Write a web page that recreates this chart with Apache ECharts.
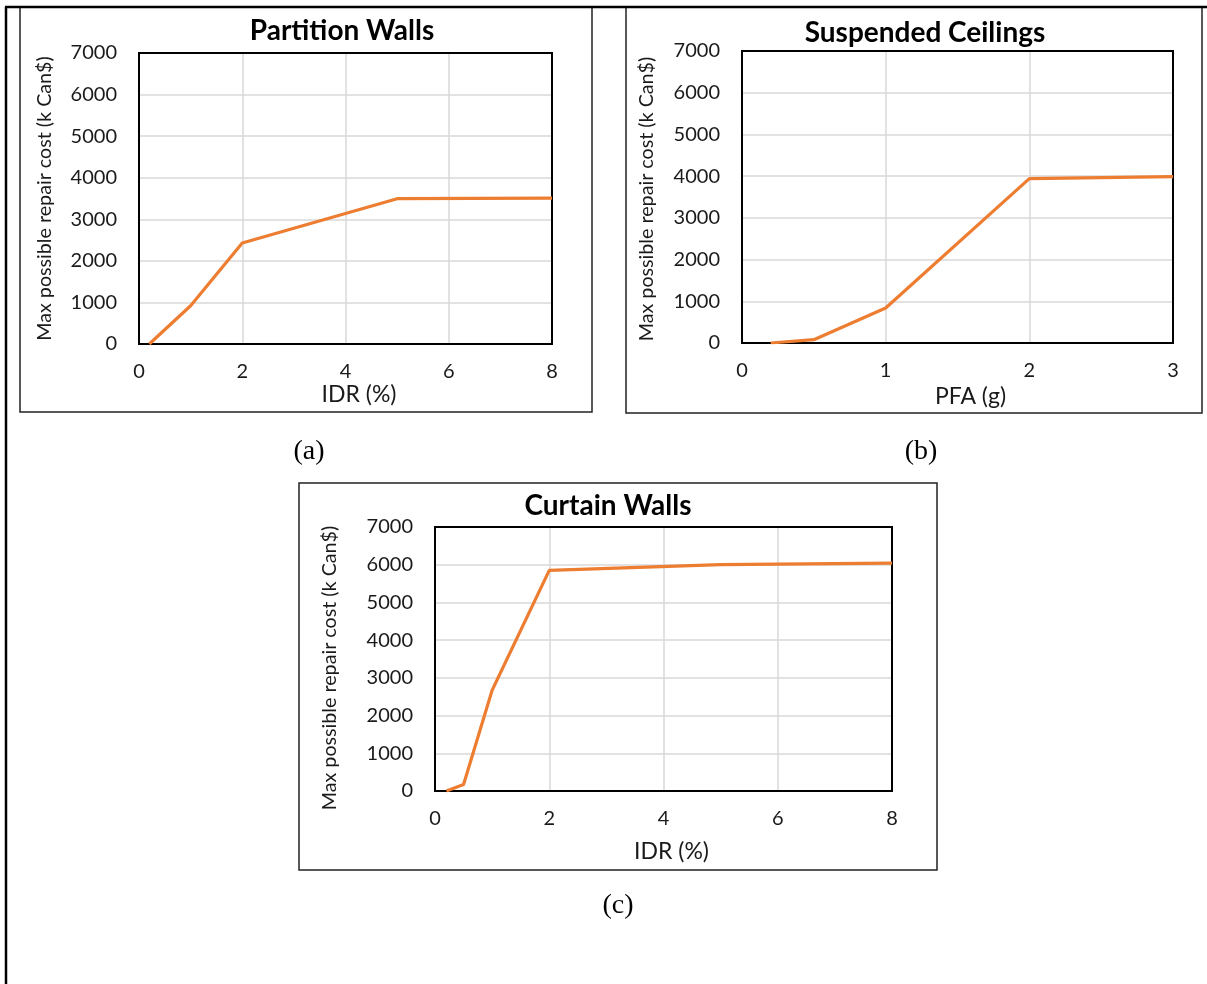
<!DOCTYPE html>
<html>
<head>
<meta charset="utf-8">
<title>Max possible repair cost</title>
<script src="https://cdn.jsdelivr.net/npm/echarts@6/dist/echarts.min.js"></script>
<style>
  html, body { margin: 0; padding: 0; background: #fff; }
  #chart { width: 1207px; height: 984px; }
</style>
</head>
<body>
<div id="chart"></div>
<script>
// Partition walls: max possible repair cost vs inter-storey drift ratio
const partitionIdr = [0.2, 1, 2, 5, 8];
const partitionCost = [0, 920, 2430, 3495, 3510];

// Suspended ceilings: max possible repair cost vs peak floor acceleration
const ceilingPfa = [0.2, 0.5, 1, 2, 3];
const ceilingCost = [0, 80, 840, 3940, 3990];

// Curtain walls: max possible repair cost vs inter-storey drift ratio
const curtainIdr = [0.2, 0.5, 1, 2, 5, 8];
const curtainCost = [0, 170, 2670, 5850, 6000, 6040];

const panelTitles = ['Partition Walls', 'Suspended Ceilings', 'Curtain Walls'];
const xNames = ['IDR (%)', 'PFA (g)', 'IDR (%)'];
const yName = 'Max possible repair cost (k Can$)';
const captions = ['(a)', '(b)', '(c)'];

const FONT = 'Lato, "Open Sans", sans-serif';
const ORANGE = '#ED7D31';

// plot areas (px)
const grids = [
  { left: 139, top: 53, width: 413, height: 291 },
  { left: 742, top: 51, width: 431, height: 292 },
  { left: 435, top: 527, width: 457, height: 264 }
];
// surrounding chart boxes (px)
const boxes = [
  { x: 20, y: 7, w: 572, h: 405 },
  { x: 626, y: 7, w: 576, h: 406 },
  { x: 299, y: 483, w: 638, h: 387 }
];
const titlePos = [[342, 17], [925, 19], [608, 492]];
const captionPos = [[309, 452], [921, 452], [618, 906]];
const yNameGap = [84, 85, 95];
const yNamePad = [[0, 0, 0, 0], [0, 4, 0, 0], [0, 18, 0, 0]];
const xNameGap = [38, 42, 49];
const xNamePad = [[0, 0, 0, 27], [0, 0, 0, 26], [0, 0, 0, 16]];
const xRange = [[0, 8, 2], [0, 3, 1], [0, 8, 2]];
const seriesData = [
  [partitionIdr, partitionCost],
  [ceilingPfa, ceilingCost],
  [curtainIdr, curtainCost]
];

const TEXT = '#1a1a1a';
const tickStyle = { color: TEXT, fontFamily: FONT, fontSize: 20 };
const plain = v => String(v);

const option = {
  backgroundColor: '#fff',
  animation: false,
  title: panelTitles.map((t, i) => ({
    text: t,
    left: titlePos[i][0],
    top: titlePos[i][1],
    padding: 0,
    textAlign: 'center',
    textStyle: { fontFamily: FONT, fontWeight: 'bold', fontSize: 28, color: '#000' }
  })),
  grid: grids.map(g => ({ left: g.left, top: g.top, width: g.width, height: g.height })),
  xAxis: grids.map((g, i) => ({
    type: 'value',
    gridIndex: i,
    min: xRange[i][0],
    max: xRange[i][1],
    interval: xRange[i][2],
    name: xNames[i],
    nameLocation: 'middle',
    nameGap: xNameGap[i],
    nameTextStyle: { color: TEXT, fontFamily: FONT, fontSize: 23, padding: xNamePad[i] },
    axisLine: { show: false },
    axisTick: { show: false },
    axisLabel: Object.assign({ margin: 18, formatter: plain }, tickStyle),
    splitLine: { show: true, lineStyle: { color: '#d9d9d9', width: 1.5 } }
  })),
  yAxis: grids.map((g, i) => ({
    type: 'value',
    gridIndex: i,
    min: 0,
    max: 7000,
    interval: 1000,
    name: yName,
    nameLocation: 'middle',
    nameRotate: 90,
    nameGap: yNameGap[i],
    nameTextStyle: { color: TEXT, fontFamily: FONT, fontSize: 19.7, padding: yNamePad[i] },
    axisLine: { show: false },
    axisTick: { show: false },
    axisLabel: Object.assign({ margin: 22, formatter: plain }, tickStyle),
    splitLine: { show: true, lineStyle: { color: '#d9d9d9', width: 1.5 } }
  })),
  series: seriesData.map((d, i) => ({
    type: 'line',
    xAxisIndex: i,
    yAxisIndex: i,
    data: d[0].map((x, k) => [x, d[1][k]]),
    showSymbol: false,
    lineStyle: { color: ORANGE, width: 3.2 },
    z: 3
  })),
  graphic: [
    // page frame: top and left rules
    { type: 'line', shape: { x1: 5, y1: 7, x2: 1207, y2: 7 }, style: { stroke: '#000', lineWidth: 2.5 }, z: 20 },
    { type: 'line', shape: { x1: 6, y1: 7, x2: 6, y2: 984 }, style: { stroke: '#000', lineWidth: 2.5 }, z: 20 }
  ]
    .concat(boxes.map(b => ({
      type: 'rect',
      shape: { x: b.x, y: b.y, width: b.w, height: b.h },
      style: { fill: 'none', stroke: '#222', lineWidth: 1.5 },
      z: 10
    })))
    .concat(grids.map(g => ({
      type: 'rect',
      shape: { x: g.left, y: g.top, width: g.width, height: g.height },
      style: { fill: 'none', stroke: '#000', lineWidth: 2 },
      z: 1
    })))
    .concat(captions.map((c, i) => ({
      type: 'text',
      x: captionPos[i][0],
      y: captionPos[i][1],
      style: {
        text: c,
        fill: '#000',
        font: '28px "Liberation Serif", "Times New Roman", serif',
        textAlign: 'center',
        textVerticalAlign: 'middle'
      },
      z: 10
    })))
};

const chart = echarts.init(document.getElementById('chart'), null, { renderer: 'canvas' });
chart.setOption(option);
</script>
</body>
</html>
